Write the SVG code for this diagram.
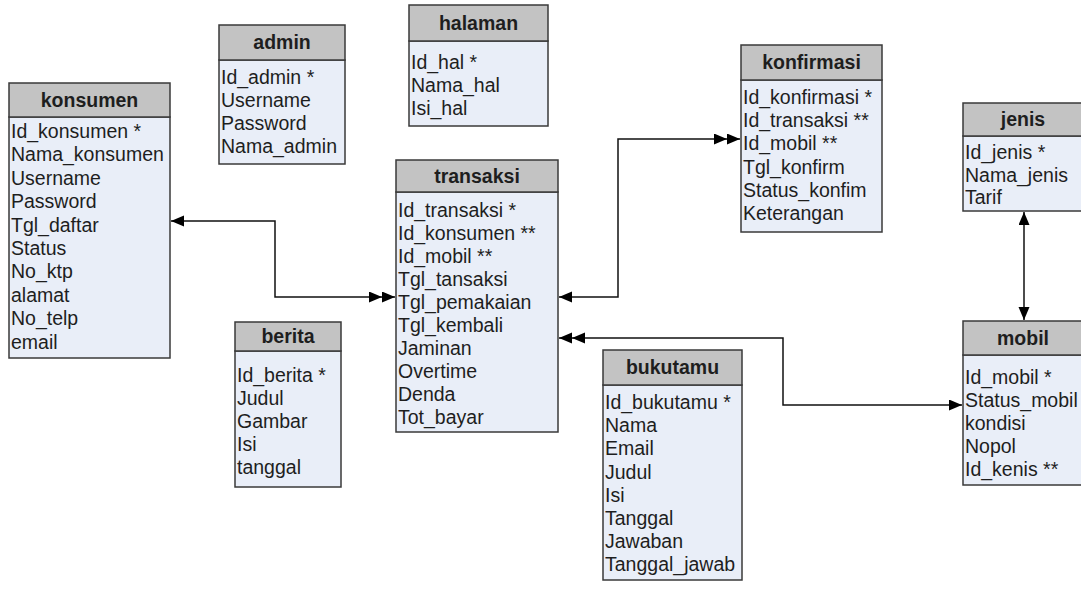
<svg xmlns="http://www.w3.org/2000/svg" width="1081" height="590" viewBox="0 0 1081 590">
<style>
.hd{fill:#c3c3c3;stroke:#3a3a3a;stroke-width:1.5}
.bd{fill:#e9eef8;stroke:#3a3a3a;stroke-width:1.5}
.t{font-family:"Liberation Sans",Arial,sans-serif;font-size:19.5px;fill:#1e1e1e}
.h{font-family:"Liberation Sans",Arial,sans-serif;font-size:19.5px;font-weight:bold;fill:#1e1e1e;text-anchor:middle}
.c{fill:none;stroke:#111;stroke-width:1.5}
</style>
<defs>
<marker id="a1" markerUnits="userSpaceOnUse" markerWidth="15" markerHeight="13" refX="13" refY="5.5" orient="auto-start-reverse"><path d="M0,0 L13,5.5 L0,11 z" fill="#000"/></marker>
<marker id="a2" markerUnits="userSpaceOnUse" markerWidth="28" markerHeight="13" refX="26" refY="5.5" orient="auto-start-reverse"><path d="M0,0 L13,5.5 L0,11 z M13,0 L26,5.5 L13,11 z" fill="#000"/></marker>
</defs>
<g id="connectors">
<path class="c" d="M171,221 H275 V297 H395" marker-start="url(#a1)" marker-end="url(#a2)"/>
<path class="c" d="M559,297 H618 V139 H740" marker-start="url(#a1)" marker-end="url(#a2)"/>
<path class="c" d="M559,338 H783 V405 H962" marker-start="url(#a2)" marker-end="url(#a1)"/>
<path class="c" d="M1024,212 V320" marker-start="url(#a1)" marker-end="url(#a1)"/>
</g>
<g id="konsumen">
<rect class="bd" x="9" y="117" width="161" height="241"/>
<rect class="hd" x="9" y="83" width="161" height="34"/>
<text class="h" x="89.5" y="107">konsumen</text>
<text class="t" x="11" y="138">Id_konsumen *</text>
<text class="t" x="11" y="161.4">Nama_konsumen</text>
<text class="t" x="11" y="184.8">Username</text>
<text class="t" x="11" y="208.2">Password</text>
<text class="t" x="11" y="231.6">Tgl_daftar</text>
<text class="t" x="11" y="255">Status</text>
<text class="t" x="11" y="278.4">No_ktp</text>
<text class="t" x="11" y="301.8">alamat</text>
<text class="t" x="11" y="325.2">No_telp</text>
<text class="t" x="11" y="348.6">email</text>
</g>
<g id="admin">
<rect class="bd" x="219" y="60" width="126" height="104"/>
<rect class="hd" x="219" y="25" width="126" height="35"/>
<text class="h" x="282" y="49">admin</text>
<text class="t" x="221" y="84">Id_admin *</text>
<text class="t" x="221" y="107">Username</text>
<text class="t" x="221" y="130">Password</text>
<text class="t" x="221" y="153">Nama_admin</text>
</g>
<g id="halaman">
<rect class="bd" x="409" y="41" width="139" height="85"/>
<rect class="hd" x="409" y="5" width="139" height="36"/>
<text class="h" x="478.5" y="30">halaman</text>
<text class="t" x="411" y="69">Id_hal *</text>
<text class="t" x="411" y="92">Nama_hal</text>
<text class="t" x="411" y="115">Isi_hal</text>
</g>
<g id="konfirmasi">
<rect class="bd" x="741" y="80" width="141" height="152"/>
<rect class="hd" x="741" y="45" width="141" height="35"/>
<text class="h" x="811.5" y="69">konfirmasi</text>
<text class="t" x="743" y="104">Id_konfirmasi *</text>
<text class="t" x="743" y="127.2">Id_transaksi **</text>
<text class="t" x="743" y="150.4">Id_mobil **</text>
<text class="t" x="743" y="173.6">Tgl_konfirm</text>
<text class="t" x="743" y="196.8">Status_konfim</text>
<text class="t" x="743" y="220">Keterangan</text>
</g>
<g id="jenis">
<rect class="bd" x="963" y="136" width="130" height="75"/>
<rect class="hd" x="963" y="103" width="130" height="33"/>
<text class="h" x="1023" y="126">jenis</text>
<text class="t" x="965" y="159">Id_jenis *</text>
<text class="t" x="965" y="182">Nama_jenis</text>
<text class="t" x="965" y="204">Tarif</text>
</g>
<g id="mobil">
<rect class="bd" x="963" y="355" width="130" height="130"/>
<rect class="hd" x="963" y="321" width="130" height="34"/>
<text class="h" x="1023" y="345">mobil</text>
<text class="t" x="965" y="384">Id_mobil *</text>
<text class="t" x="965" y="407">Status_mobil</text>
<text class="t" x="965" y="430">kondisi</text>
<text class="t" x="965" y="453">Nopol</text>
<text class="t" x="965" y="476">Id_kenis **</text>
</g>
<g id="transaksi">
<rect class="bd" x="396" y="192" width="162" height="240"/>
<rect class="hd" x="396" y="160" width="162" height="32"/>
<text class="h" x="477" y="183">transaksi</text>
<text class="t" x="398" y="217">Id_transaksi *</text>
<text class="t" x="398" y="240">Id_konsumen **</text>
<text class="t" x="398" y="263">Id_mobil **</text>
<text class="t" x="398" y="286">Tgl_tansaksi</text>
<text class="t" x="398" y="309">Tgl_pemakaian</text>
<text class="t" x="398" y="332">Tgl_kembali</text>
<text class="t" x="398" y="355">Jaminan</text>
<text class="t" x="398" y="378">Overtime</text>
<text class="t" x="398" y="401">Denda</text>
<text class="t" x="398" y="424">Tot_bayar</text>
</g>
<g id="berita">
<rect class="bd" x="235" y="351" width="106" height="136"/>
<rect class="hd" x="235" y="322" width="106" height="29"/>
<text class="h" x="288" y="343">berita</text>
<text class="t" x="237" y="382">Id_berita *</text>
<text class="t" x="237" y="405">Judul</text>
<text class="t" x="237" y="428">Gambar</text>
<text class="t" x="237" y="451">Isi</text>
<text class="t" x="237" y="474">tanggal</text>
</g>
<g id="bukutamu">
<rect class="bd" x="603" y="385" width="139" height="195"/>
<rect class="hd" x="603" y="350" width="139" height="35"/>
<text class="h" x="672.5" y="374">bukutamu</text>
<text class="t" x="605" y="409">Id_bukutamu *</text>
<text class="t" x="605" y="432.2">Nama</text>
<text class="t" x="605" y="455.4">Email</text>
<text class="t" x="605" y="478.6">Judul</text>
<text class="t" x="605" y="501.8">Isi</text>
<text class="t" x="605" y="525">Tanggal</text>
<text class="t" x="605" y="548.2">Jawaban</text>
<text class="t" x="605" y="571.4">Tanggal_jawab</text>
</g>
</svg>
